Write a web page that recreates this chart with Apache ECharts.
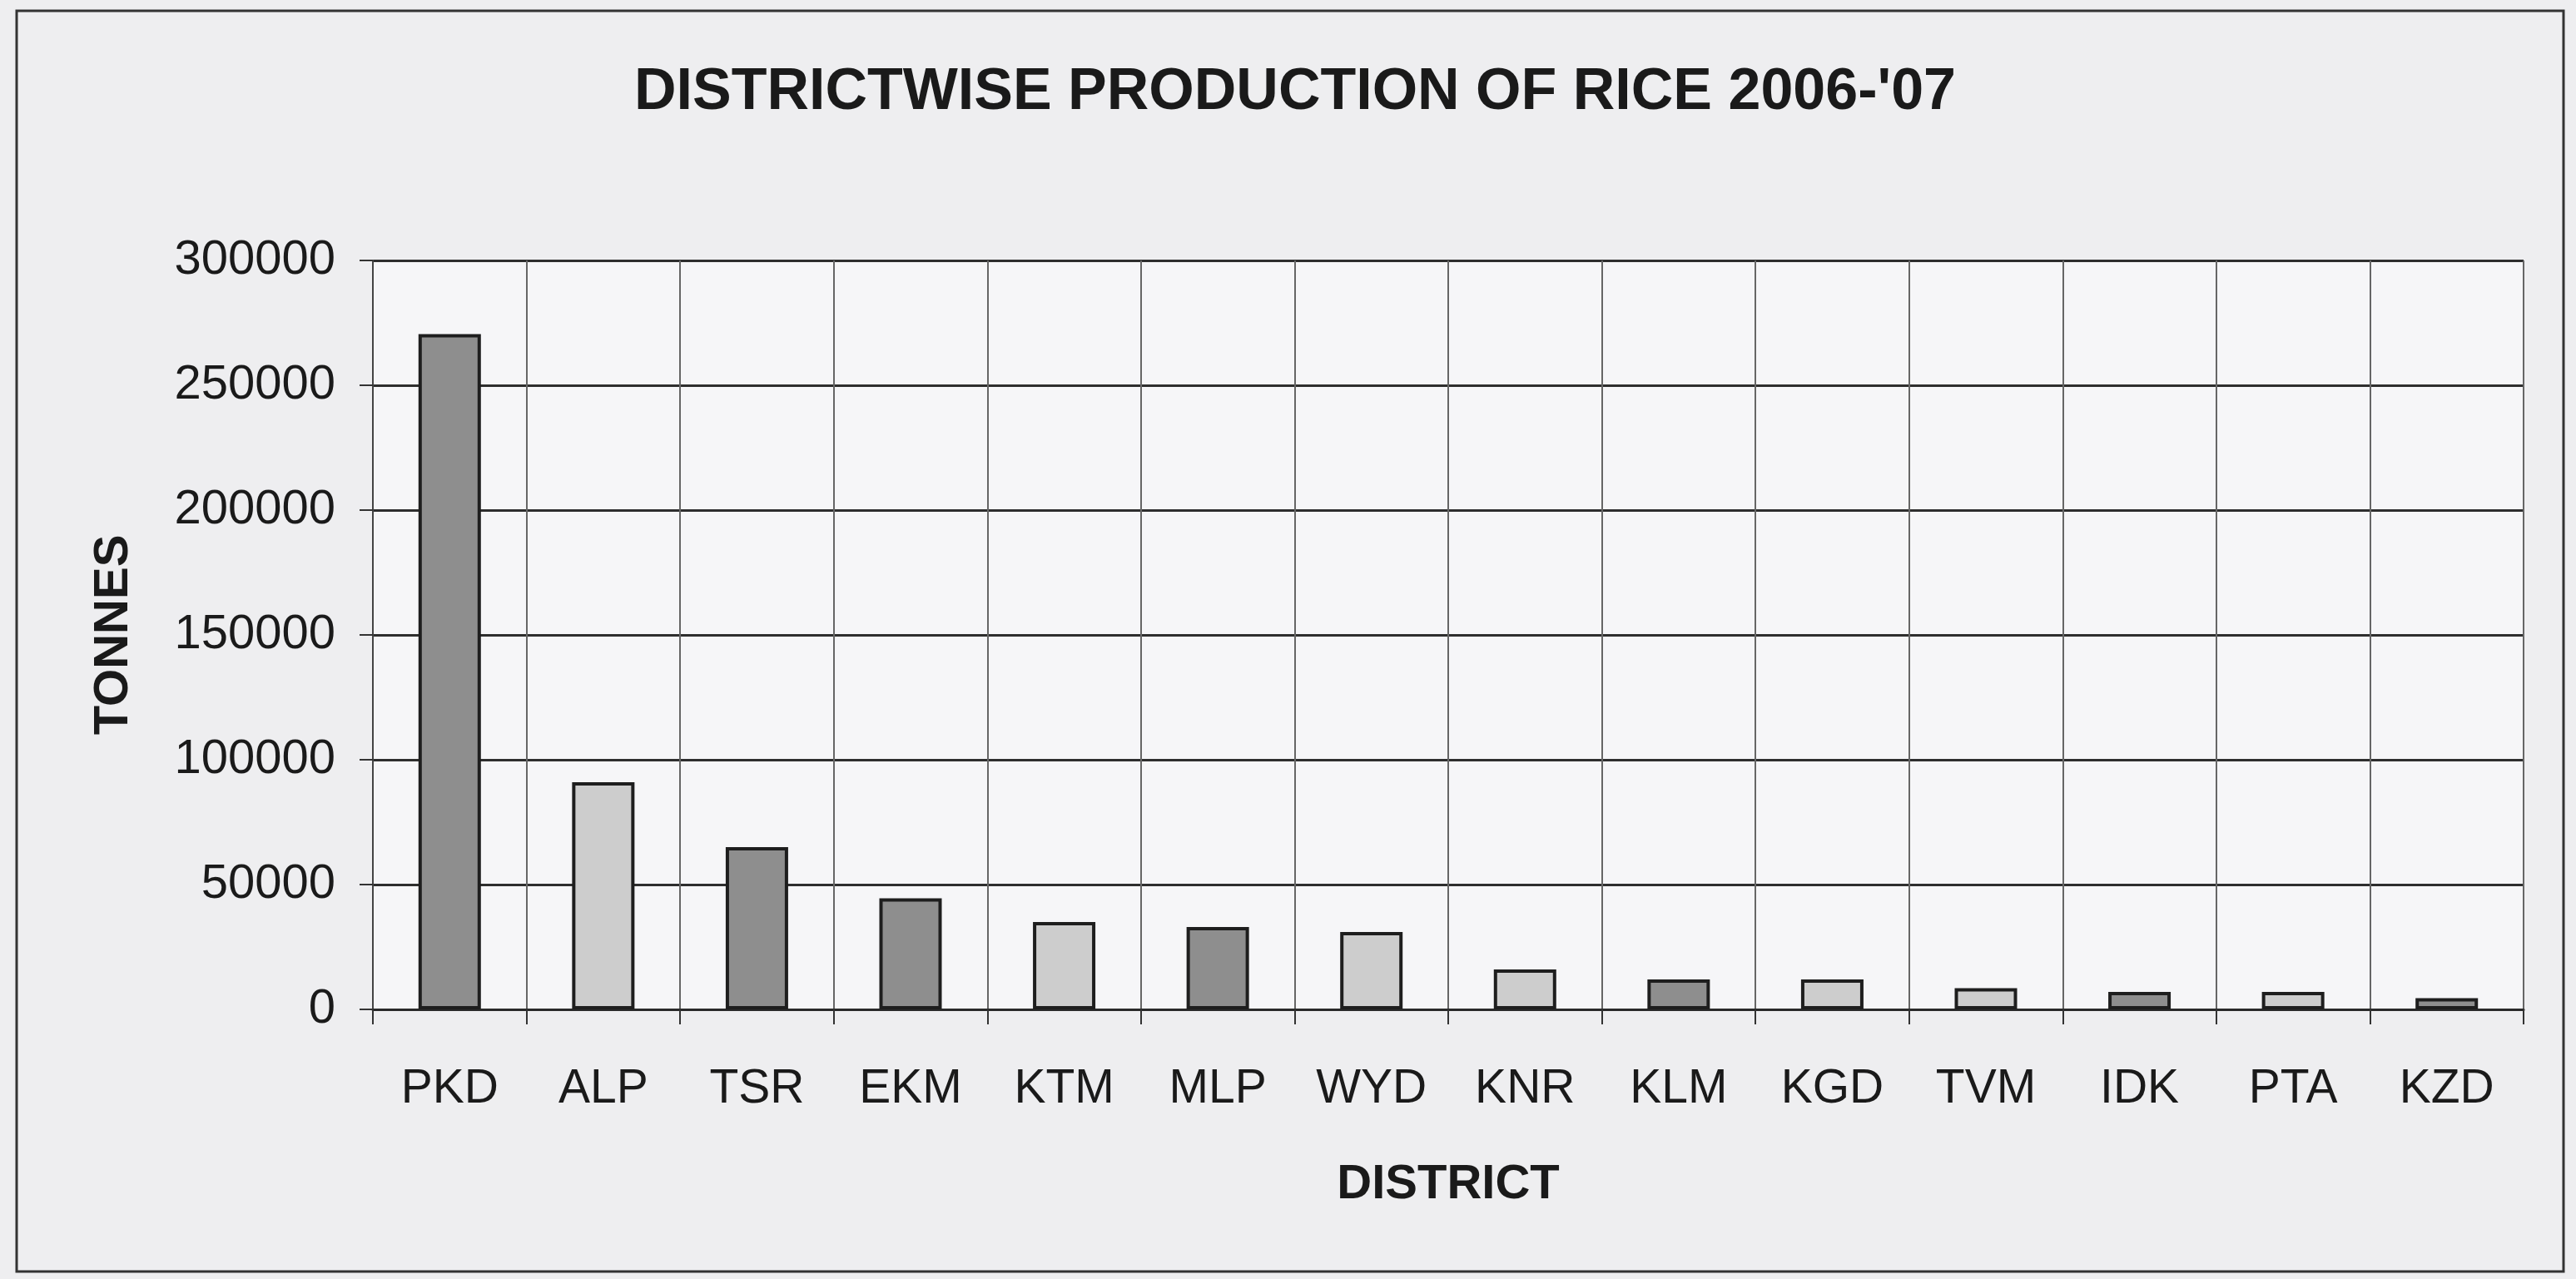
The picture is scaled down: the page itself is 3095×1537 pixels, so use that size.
<!DOCTYPE html>
<html>
<head>
<meta charset="utf-8">
<title>Districtwise production of rice 2006-07</title>
<script src="https://cdn.jsdelivr.net/npm/echarts@6/dist/echarts.min.js"></script>
<style>
    html, body { margin: 0; padding: 0; background: #eeeef0; }
    #main { width: 3095px; height: 1537px; }
</style>
</head>
<body>
<div id="main"></div>
<script>
    // district codes, left to right
    var districts = ['PKD', 'ALP', 'TSR', 'EKM', 'KTM', 'MLP', 'WYD', 'KNR', 'KLM', 'KGD', 'TVM', 'IDK', 'PTA', 'KZD'];
    // production, tonnes
    var production = [270500, 91000, 65000, 44500, 35000, 33000, 31000, 16000, 12000, 12000, 8500, 7000, 7000, 4500];
    // y axis ticks
    var yTicks = [0, 50000, 100000, 150000, 200000, 250000, 300000];

    // the scan prints some bars darker than others
    var barTone = ['dark', 'light', 'dark', 'dark', 'light', 'dark', 'light', 'light', 'dark', 'light', 'light', 'dark', 'light', 'dark'];
    var toneColor = { dark: '#8e8e8e', light: '#cdcdcd' };

    var font = '"Liberation Sans", Arial, sans-serif';
    var chart = echarts.init(document.getElementById('main'));

    chart.setOption({
        backgroundColor: '#eeeef0',
        animation: false,
        graphic: [{
            // outer frame of the chart area
            type: 'rect',
            shape: { x: 20, y: 13, width: 3060, height: 1515 },
            style: { fill: 'none', stroke: '#333', lineWidth: 3 },
            silent: true
        }],
        title: {
            text: "DISTRICTWISE PRODUCTION OF RICE 2006-'07",
            left: 1551,
            textAlign: 'center',
            top: 72,
            textStyle: { fontFamily: font, fontSize: 70, fontWeight: 'bold', color: '#1a1a1a' }
        },
        grid: {
            left: 448,
            right: 63,
            top: 313,
            bottom: 324,
            containLabel: false,
            show: true,
            backgroundColor: '#f6f6f8',
            borderWidth: 0
        },
        xAxis: {
            type: 'category',
            data: districts,
            name: 'DISTRICT',
            nameLocation: 'middle',
            nameGap: 182,
            nameTextStyle: { fontFamily: font, fontSize: 58, fontWeight: 'bold', color: '#1a1a1a' },
            axisLine: { show: true, lineStyle: { color: '#2a2a2a', width: 3 } },
            axisTick: { show: true, inside: false, length: 18, lineStyle: { color: '#333', width: 2 } },
            axisLabel: { fontFamily: font, fontSize: 57, color: '#1a1a1a', margin: 68 },
            splitLine: { show: true, lineStyle: { color: '#666', width: 2 } }
        },
        yAxis: {
            type: 'value',
            min: yTicks[0],
            max: yTicks[yTicks.length - 1],
            interval: yTicks[1] - yTicks[0],
            name: 'TONNES',
            nameLocation: 'middle',
            nameRotate: 90,
            nameGap: 282,
            nameTextStyle: { fontFamily: font, fontSize: 58, fontWeight: 'bold', color: '#1a1a1a' },
            axisLine: { show: true, lineStyle: { color: '#444', width: 2 } },
            axisTick: { show: true, inside: false, length: 16, lineStyle: { color: '#333', width: 2 } },
            axisLabel: {
                fontFamily: font, fontSize: 58, color: '#1a1a1a', margin: 45,
                formatter: function (v) { return String(v); }
            },
            splitLine: { show: true, lineStyle: { color: '#2e2e2e', width: 3 } }
        },
        series: [{
            type: 'bar',
            data: production,
            barWidth: 75,
            itemStyle: {
                color: function (p) { return toneColor[barTone[p.dataIndex]]; },
                borderColor: '#1e1e1e',
                borderWidth: 4
            }
        }]
    });
</script>
</body>
</html>
